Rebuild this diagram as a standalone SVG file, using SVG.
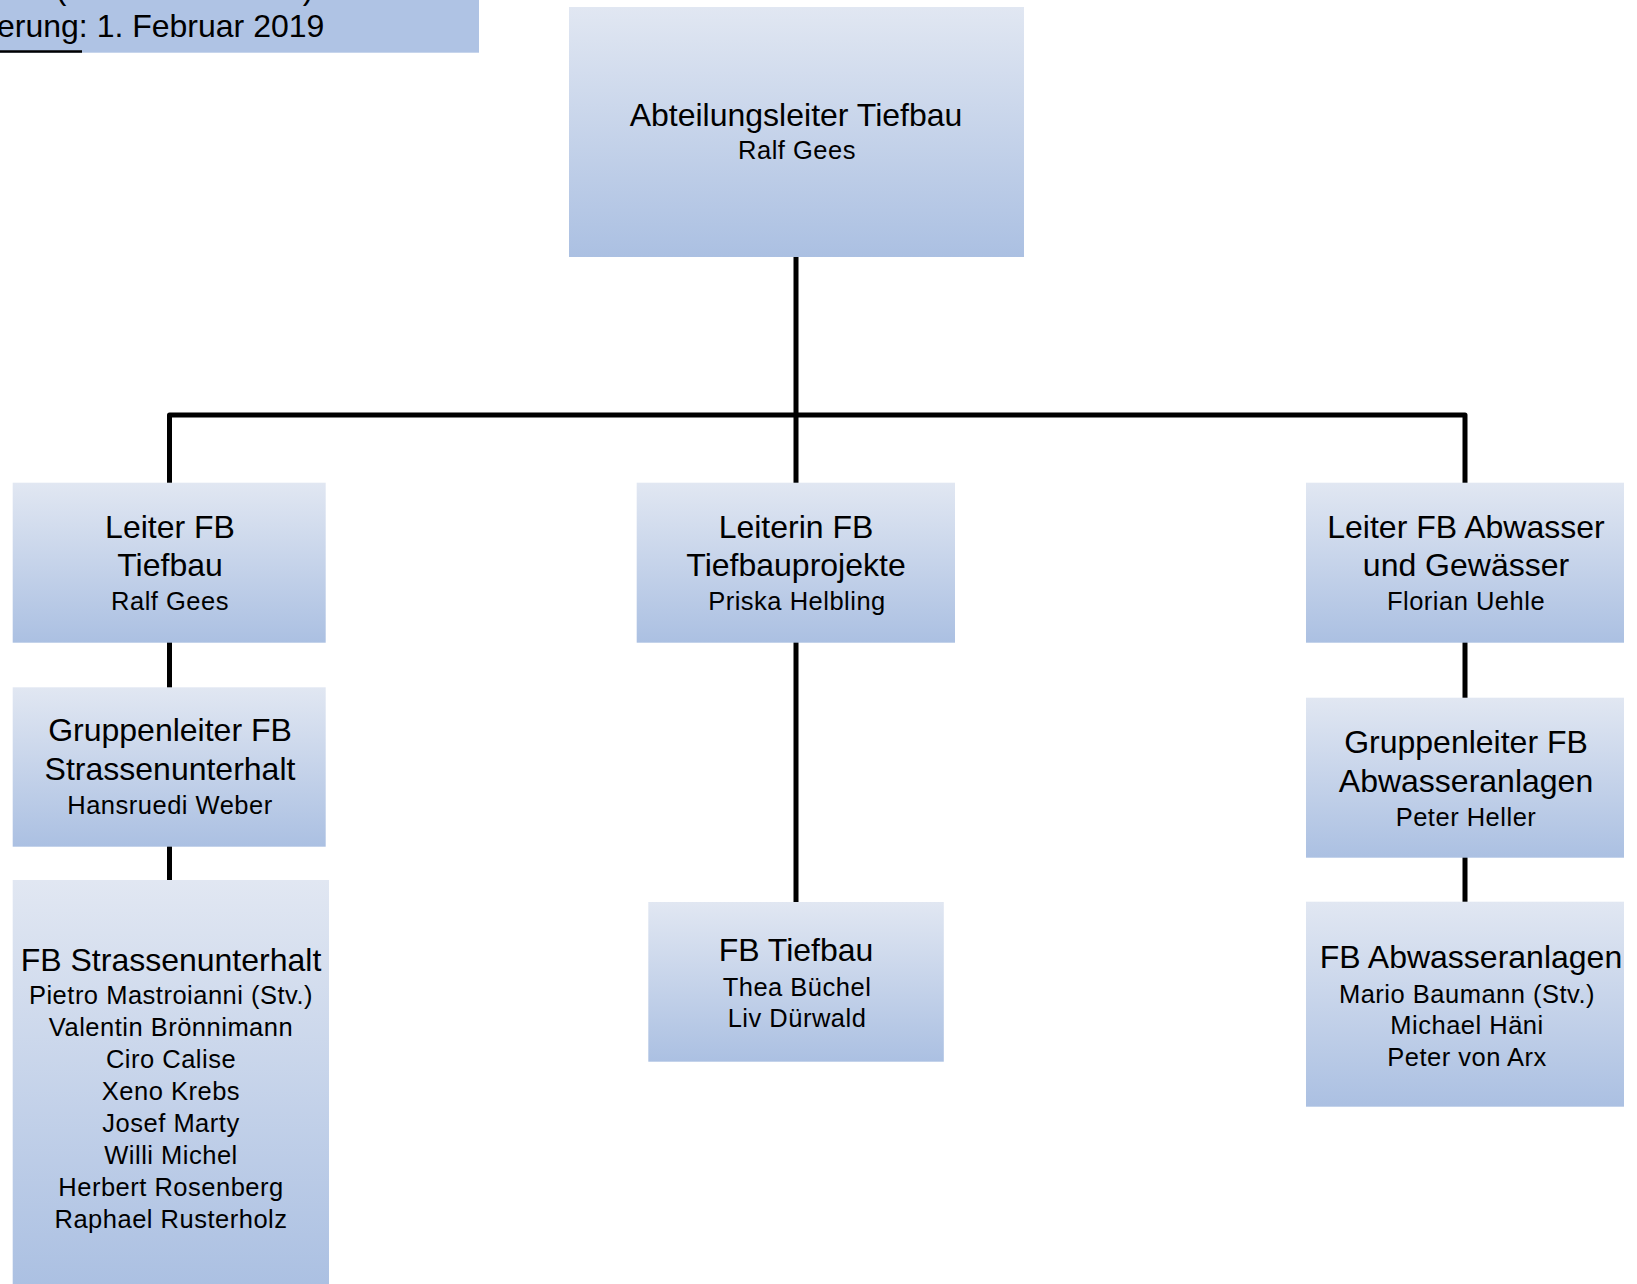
<svg xmlns="http://www.w3.org/2000/svg" width="1637" height="1284" viewBox="0 0 1637 1284">
<defs>
<linearGradient id="g" x1="0" y1="0" x2="0" y2="1">
<stop offset="0" stop-color="#e1e7f2"/>
<stop offset="1" stop-color="#abc0e2"/>
</linearGradient>
</defs>
<style>
.box{fill:url(#g);stroke:none}
text{font-family:"Liberation Sans",Arial,sans-serif;fill:#000;text-anchor:middle}
.t{font-size:32px}
.n{font-size:25.5px;letter-spacing:0.5px}
.c{fill:none;stroke:#000;stroke-width:5;stroke-linecap:round;stroke-linejoin:round}
</style>
<rect width="1637" height="1284" fill="#fff"/>
<g id="header">
<rect x="-5" y="-20" width="484" height="72.7" fill="#afc3e4"/>
<text x="61" y="-1" class="t" style="text-anchor:middle">(</text>
<text x="308" y="-1" class="t" style="text-anchor:middle">)</text>
<text x="-3" y="37" class="t" style="text-anchor:start">erung: 1. Februar 2019</text>
<line x1="0" y1="51.5" x2="82" y2="51.5" stroke="#000" stroke-width="2.5"/>
</g>
<g id="connectors">
<path class="c" d="M169.5,485 V415 H1465 V485"/>
<path class="c" d="M796,256 V485"/>
<path class="c" d="M169.5,641 V688"/>
<path class="c" d="M169.5,847 V885"/>
<path class="c" d="M796,642 V902"/>
<path class="c" d="M1465,641 V700"/>
<path class="c" d="M1465,856 V905"/>
</g>
<g id="n-abteilungsleiter">
<rect class="box" x="569" y="7" width="455" height="250"/>
<text x="796" y="126" class="t">Abteilungsleiter Tiefbau</text>
<text x="797" y="159" class="n">Ralf Gees</text>
</g>
<g id="n-leiter-tiefbau">
<rect class="box" x="12.7" y="482.7" width="313" height="160"/>
<text x="170" y="538" class="t">Leiter FB</text>
<text x="170" y="576" class="t">Tiefbau</text>
<text x="170" y="610" class="n">Ralf Gees</text>
</g>
<g id="n-gruppenleiter-strassen">
<rect class="box" x="12.7" y="687.3" width="313" height="159.4"/>
<text x="170" y="741" class="t">Gruppenleiter FB</text>
<text x="170" y="780" class="t">Strassenunterhalt</text>
<text x="170" y="814" class="n">Hansruedi Weber</text>
</g>
<g id="n-fb-strassen">
<rect class="box" x="12.7" y="880" width="316.3" height="408"/>
<text x="171" y="971" class="t">FB Strassenunterhalt</text>
<text x="171" y="1004" class="n">Pietro Mastroianni (Stv.)</text>
<text x="171" y="1036" class="n">Valentin Brönnimann</text>
<text x="171" y="1068" class="n">Ciro Calise</text>
<text x="171" y="1100" class="n">Xeno Krebs</text>
<text x="171" y="1132" class="n">Josef Marty</text>
<text x="171" y="1164" class="n">Willi Michel</text>
<text x="171" y="1196" class="n">Herbert Rosenberg</text>
<text x="171" y="1228" class="n">Raphael Rusterholz</text>
</g>
<g id="n-leiterin-projekte">
<rect class="box" x="636.7" y="482.7" width="318.3" height="160"/>
<text x="796" y="538" class="t">Leiterin FB</text>
<text x="796" y="576" class="t">Tiefbauprojekte</text>
<text x="797" y="610" class="n">Priska Helbling</text>
</g>
<g id="n-fb-tiefbau">
<rect class="box" x="648.3" y="902" width="295.5" height="159.7"/>
<text x="796" y="961" class="t">FB Tiefbau</text>
<text x="797" y="996" class="n">Thea Büchel</text>
<text x="797" y="1027" class="n">Liv Dürwald</text>
</g>
<g id="n-leiter-abwasser">
<rect class="box" x="1306" y="482.7" width="318" height="160"/>
<text x="1466" y="538" class="t">Leiter FB Abwasser</text>
<text x="1466" y="576" class="t">und Gewässer</text>
<text x="1466" y="610" class="n">Florian Uehle</text>
</g>
<g id="n-gruppenleiter-abwasser">
<rect class="box" x="1306" y="697.7" width="318" height="160"/>
<text x="1466" y="753" class="t">Gruppenleiter FB</text>
<text x="1466" y="792" class="t">Abwasseranlagen</text>
<text x="1466" y="826" class="n">Peter Heller</text>
</g>
<g id="n-fb-abwasser">
<rect class="box" x="1306" y="901.7" width="318" height="205"/>
<text x="1471" y="968" class="t">FB Abwasseranlagen</text>
<text x="1467" y="1003" class="n">Mario Baumann (Stv.)</text>
<text x="1467" y="1034" class="n">Michael Häni</text>
<text x="1467" y="1066" class="n">Peter von Arx</text>
</g>
</svg>
